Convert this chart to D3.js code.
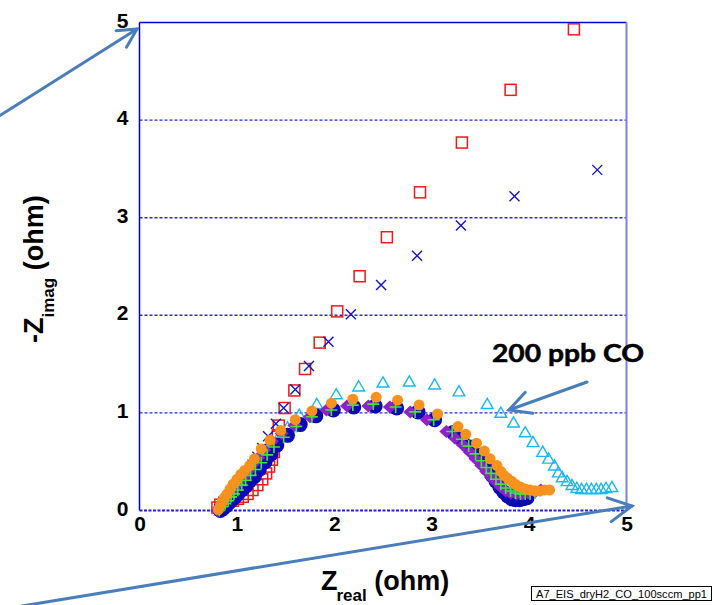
<!DOCTYPE html>
<html>
<head>
<meta charset="utf-8">
<script src="https://cdn.jsdelivr.net/npm/d3@7"></script>
<style>
  html, body { margin: 0; padding: 0; background: #fff; }
  svg { display: block; }
  .tick text { font-family: "Liberation Sans", Arial, sans-serif; font-weight: bold; font-size: 21px; fill: #000; }
</style>
</head>
<body>
<div id="chart"></div>
<script>
// Nyquist plot: Zreal vs -Zimag (ohm)
const xTicks = [0, 1, 2, 3, 4, 5];
const yTicks = [0, 1, 2, 3, 4, 5];

// red open squares
const redSquares = [
  [0.80,0.03],[0.83,0.06],[0.87,0.08],[0.91,0.09],[0.96,0.10],[1.01,0.12],[1.06,0.14],[1.11,0.17],
  [1.16,0.21],[1.21,0.26],[1.26,0.32],[1.30,0.38],[1.33,0.45],[1.36,0.52],[1.38,0.60],[1.40,0.68],
  [1.42,0.77],[1.43,0.87],[1.49,1.05],[1.59,1.23],[1.70,1.45],[1.85,1.72],[2.03,2.04],[2.26,2.40],
  [2.54,2.80],[2.88,3.26],[3.31,3.77],[3.81,4.31],[4.46,4.93]
];
// blue crosses
const blueCrosses = [
  [0.82,0.01],[0.85,0.05],[0.88,0.09],[0.91,0.13],[0.95,0.18],[0.99,0.23],[1.03,0.28],[1.07,0.34],
  [1.11,0.40],[1.16,0.47],[1.21,0.55],[1.26,0.64],[1.32,0.76],[1.40,0.89],[1.48,1.05],[1.60,1.24],
  [1.74,1.48],[1.94,1.73],[2.17,2.01],[2.48,2.31],[2.85,2.61],[3.30,2.92],[3.85,3.22],[4.70,3.49]
];
// cyan open triangles (200 ppb CO)
const cyanTriangles = [
  [0.83,0.00],[0.86,0.04],[0.89,0.07],[0.92,0.10],[0.96,0.14],[1.00,0.18],[1.04,0.22],[1.08,0.27],
  [1.13,0.32],[1.18,0.37],[1.22,0.43],[1.27,0.52],[1.32,0.62],[1.41,0.72],[1.52,0.85],[1.64,0.98],
  [1.82,1.09],[2.02,1.19],[2.25,1.27],[2.50,1.31],[2.77,1.32],[3.03,1.29],[3.28,1.22],[3.57,1.09],
  [3.71,1.00],[3.84,0.90],[3.96,0.80],[4.04,0.70],[4.14,0.60],[4.20,0.53],[4.26,0.46],[4.30,0.39],
  [4.34,0.34],[4.39,0.30],[4.44,0.26],[4.49,0.23],[4.54,0.22],[4.59,0.22],[4.64,0.22],[4.69,0.22],
  [4.74,0.22],[4.79,0.23],[4.85,0.24]
];
// navy filled circles
const navyCircles = [
  [0.83,0.00],[0.86,0.02],[0.89,0.05],[0.92,0.08],[0.95,0.11],[0.98,0.14],[1.01,0.17],[1.05,0.21],
  [1.09,0.25],[1.13,0.30],[1.18,0.35],[1.23,0.42],[1.29,0.50],[1.35,0.58],[1.41,0.67],[1.52,0.77],
  [1.65,0.88],[1.81,0.97],[1.99,1.03],[2.20,1.06],[2.42,1.07],[2.64,1.05],[2.86,1.01],[3.03,0.93],
  [3.22,0.80],[3.31,0.73],[3.39,0.65],[3.46,0.57],[3.52,0.50],[3.57,0.43],[3.62,0.36],[3.66,0.30],
  [3.70,0.24],[3.74,0.19],[3.78,0.15],[3.82,0.12],[3.86,0.11],[3.90,0.11],[3.94,0.12],[3.98,0.13]
];
// purple filled diamonds
const purpleDiamonds = [
  [0.80,0.00],[0.82,0.03],[0.85,0.07],[0.88,0.11],[0.91,0.15],[0.94,0.19],[0.98,0.24],[1.02,0.29],
  [1.06,0.34],[1.11,0.40],[1.16,0.47],[1.22,0.54],[1.28,0.62],[1.36,0.71],[1.46,0.79],[1.59,0.87],
  [1.75,0.96],[1.92,1.03],[2.13,1.07],[2.35,1.07],[2.57,1.06],[2.78,1.01],[2.95,0.93],[3.15,0.81],
  [3.24,0.74],[3.32,0.67],[3.39,0.60],[3.45,0.53],[3.51,0.46],[3.56,0.40],[3.61,0.34],[3.66,0.29],
  [3.71,0.24],[3.76,0.20],[3.81,0.18],[3.87,0.17],[3.93,0.17],[3.99,0.18],[4.06,0.19],[4.12,0.21]
];
// green plus signs
const greenPlus = [
  [0.82,0.00],[0.85,0.04],[0.88,0.07],[0.91,0.10],[0.94,0.14],[0.97,0.17],[1.01,0.21],[1.05,0.26],
  [1.09,0.31],[1.14,0.36],[1.19,0.42],[1.25,0.49],[1.31,0.57],[1.38,0.65],[1.48,0.75],[1.61,0.86],
  [1.77,0.96],[1.97,1.03],[2.19,1.08],[2.40,1.09],[2.63,1.06],[2.83,1.01],[3.02,0.93],[3.21,0.81],
  [3.31,0.73],[3.38,0.66],[3.45,0.58],[3.51,0.51],[3.56,0.44],[3.61,0.38],[3.66,0.32],[3.71,0.27],
  [3.76,0.23],[3.81,0.20],[3.86,0.18],[3.91,0.17],[3.96,0.17],[4.01,0.17],[4.06,0.18]
];
// orange filled circles
const orangeCircles = [
  [0.81,0.01],[0.83,0.05],[0.85,0.09],[0.87,0.13],[0.90,0.17],[0.93,0.22],[0.96,0.27],[1.00,0.32],
  [1.04,0.37],[1.08,0.41],[1.13,0.46],[1.18,0.53],[1.25,0.63],[1.34,0.72],[1.45,0.82],[1.60,0.93],
  [1.77,1.02],[1.97,1.10],[2.19,1.14],[2.43,1.16],[2.65,1.13],[2.87,1.08],[3.06,0.99],[3.27,0.86],
  [3.35,0.78],[3.46,0.69],[3.54,0.61],[3.60,0.53],[3.67,0.46],[3.71,0.40],[3.74,0.36],[3.78,0.33],
  [3.82,0.30],[3.86,0.27],[3.91,0.24],[3.96,0.22],[4.01,0.21],[4.06,0.20],[4.11,0.20],[4.16,0.21],
  [4.21,0.21]
];

const W = 719, H = 605;
const svg = d3.select("#chart").append("svg").attr("width", W).attr("height", H);

const x = d3.scaleLinear().domain([0, 5]).range([139.5, 626.5]);
const y = d3.scaleLinear().domain([0, 5]).range([510.5, 22.5]);

// horizontal dashed gridlines
svg.append("g").selectAll("line").data(yTicks.filter(v => v > 0 && v < 5)).join("line")
  .attr("x1", x(0)).attr("x2", x(5)).attr("y1", d => y(d)).attr("y2", d => y(d))
  .attr("stroke", "#2a2ad0").attr("stroke-width", 1.4).attr("stroke-dasharray", "3,2");

// frame: top solid, right lighter, left solid, bottom dashed
svg.append("line").attr("x1", x(0)).attr("x2", x(5)).attr("y1", y(5)).attr("y2", y(5))
  .attr("stroke", "#0000dd").attr("stroke-width", 1.5);
svg.append("line").attr("x1", x(5)).attr("x2", x(5)).attr("y1", y(5)).attr("y2", y(0))
  .attr("stroke", "#7f7ff0").attr("stroke-width", 2);

// axes
const xAxis = svg.append("g").attr("transform", `translate(0,${y(0)})`)
  .call(d3.axisBottom(x).tickValues(xTicks).tickSize(0).tickPadding(6).tickFormat(d3.format("d")));
xAxis.select(".domain").remove();
const yAxis = svg.append("g").attr("transform", `translate(${x(0)},0)`)
  .call(d3.axisLeft(y).tickValues(yTicks).tickSize(0).tickPadding(11).tickFormat(d3.format("d")));
yAxis.select(".domain").remove();
yAxis.selectAll("text").attr("dy", "0.22em");

svg.append("line").attr("x1", x(0)).attr("x2", x(0)).attr("y1", y(5)).attr("y2", y(0))
  .attr("stroke", "#0000cc").attr("stroke-width", 1.5);
svg.append("line").attr("x1", x(0)).attr("x2", x(5)).attr("y1", y(0)).attr("y2", y(0))
  .attr("stroke", "#2020d0").attr("stroke-width", 2.2).attr("stroke-dasharray", "3,1.5");

// marker series
const plot = svg.append("g");
const sq = 11;
plot.selectAll(".sq").data(redSquares).join("rect").attr("class", "sq")
  .attr("x", d => x(d[0]) - sq / 2).attr("y", d => y(d[1]) - sq / 2)
  .attr("width", sq).attr("height", sq)
  .attr("fill", "none").attr("stroke", "#f01818").attr("stroke-width", 1.5);

const xs = 5;
plot.selectAll(".xm").data(blueCrosses).join("path").attr("class", "xm")
  .attr("d", d => { const cx = x(d[0]), cy = y(d[1]);
    return `M${cx - xs},${cy - xs}L${cx + xs},${cy + xs}M${cx - xs},${cy + xs}L${cx + xs},${cy - xs}`; })
  .attr("stroke", "#1414c8").attr("stroke-width", 1.4).attr("fill", "none");

const tri = d3.symbol().type(d3.symbolTriangle).size(60);
plot.selectAll(".tr").data(cyanTriangles).join("path").attr("class", "tr")
  .attr("transform", d => `translate(${x(d[0])},${y(d[1]) + 1})`).attr("d", tri)
  .attr("fill", "none").attr("stroke", "#18b8f0").attr("stroke-width", 1.4);

plot.selectAll(".nc").data(navyCircles).join("circle").attr("class", "nc")
  .attr("cx", d => x(d[0])).attr("cy", d => y(d[1])).attr("r", 7.5)
  .attr("fill", "#0a0ab4");

const dw = 7, dh = 6.5;
plot.selectAll(".dm").data(purpleDiamonds).join("path").attr("class", "dm")
  .attr("d", d => { const cx = x(d[0]), cy = y(d[1]);
    return `M${cx - dw},${cy}L${cx},${cy - dh}L${cx + dw},${cy}L${cx},${cy + dh}Z`; })
  .attr("fill", "#8c22c8");

const ps = 6;
plot.selectAll(".pl").data(greenPlus).join("path").attr("class", "pl")
  .attr("d", d => { const cx = x(d[0]), cy = y(d[1]);
    return `M${cx - ps},${cy}L${cx + ps},${cy}M${cx},${cy - ps}L${cx},${cy + ps}`; })
  .attr("stroke", "#3ce63c").attr("stroke-width", 1.6).attr("fill", "none");

plot.selectAll(".oc").data(orangeCircles).join("circle").attr("class", "oc")
  .attr("cx", d => x(d[0])).attr("cy", d => y(d[1])).attr("r", 5.5)
  .attr("fill", "#f8921e");

// axis titles
const titleFont = "'Liberation Sans', Arial, sans-serif";
const xt = svg.append("text").attr("x", 321).attr("y", 590)
  .attr("font-family", titleFont).attr("font-weight", "bold").attr("font-size", 27).attr("fill", "#000");
xt.append("tspan").text("Z");
xt.append("tspan").attr("font-size", 17).attr("dx", -1).attr("dy", 11).text("real");
xt.append("tspan").attr("dy", -11).text(" (ohm)");

const yt = svg.append("text").attr("transform", "translate(43,343) rotate(-90)")
  .attr("font-family", titleFont).attr("font-weight", "bold").attr("font-size", 27).attr("fill", "#000");
yt.append("tspan").text("-Z");
yt.append("tspan").attr("font-size", 17).attr("dy", 11).text("imag");
yt.append("tspan").attr("dy", -11).text(" (ohm)");

// annotation
svg.append("text").attr("x", 492).attr("y", 362)
  .attr("font-family", "Lato, 'Open Sans', sans-serif").attr("font-weight", "bold")
  .attr("font-size", 24).attr("textLength", 152).attr("lengthAdjust", "spacingAndGlyphs")
  .attr("stroke", "#000").attr("stroke-width", 0.5)
  .attr("fill", "#000").text("200 ppb CO");

// arrows
function arrow(x1, y1, x2, y2, head) {
  const a = Math.atan2(y2 - y1, x2 - x1), spread = Math.PI / 6.5;
  const g = svg.append("g").attr("stroke", "#4a7dbb").attr("stroke-width", 3)
    .attr("stroke-linecap", "round").attr("fill", "none");
  g.append("line").attr("x1", x1).attr("y1", y1).attr("x2", x2).attr("y2", y2);
  g.append("path").attr("d",
    `M${x2 - head * Math.cos(a - spread)},${y2 - head * Math.sin(a - spread)}L${x2},${y2}` +
    `L${x2 - head * Math.cos(a + spread)},${y2 - head * Math.sin(a + spread)}`);
}
arrow(-4, 118, 137, 29, 21);
arrow(22, 606, 632, 506, 26);
arrow(587, 382, 509, 410, 24);

// file tag
svg.append("rect").attr("x", 531.5).attr("y", 586.5).attr("width", 180).attr("height", 14)
  .attr("fill", "#fff").attr("stroke", "#000").attr("stroke-width", 1);
svg.append("text").attr("x", 536).attr("y", 597.5)
  .attr("font-family", "'Liberation Sans', Arial, sans-serif").attr("font-size", 11)
  .attr("textLength", 171).attr("lengthAdjust", "spacingAndGlyphs")
  .attr("fill", "#000").text("A7_EIS_dryH2_CO_100sccm_pp1");
</script>
</body>
</html>
